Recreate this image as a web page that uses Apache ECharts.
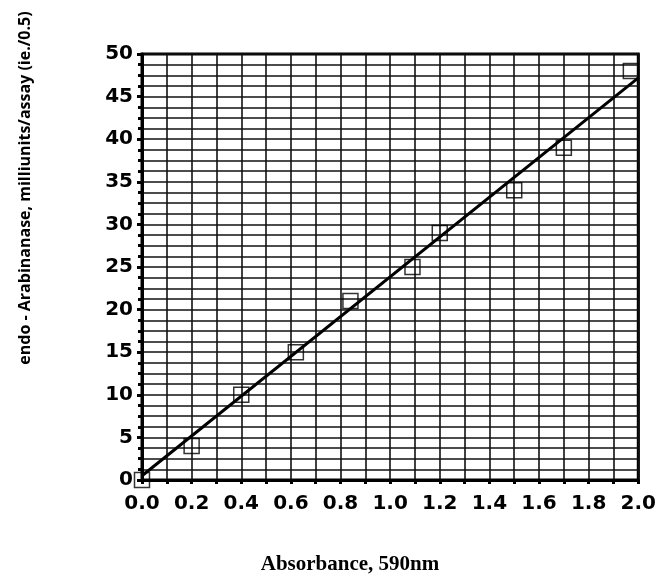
<!DOCTYPE html>
<html>
<head>
<meta charset="utf-8">
<script src="https://cdn.jsdelivr.net/npm/echarts@6/dist/echarts.min.js"></script>
<style>
  html, body { margin: 0; padding: 0; background: #fff; }
  #chart { width: 659px; height: 588px; }
</style>
</head>
<body>
<div id="chart"></div>
<script>
// absorbance readings and matching activity
const absorbance = [0.0, 0.2, 0.4, 0.62, 0.84, 1.09, 1.2, 1.5, 1.7, 1.97];
const activity = [0, 4, 10, 15, 21, 25, 29, 34, 39, 48];
// end points of the drawn standard-curve line
const fitX = [0.0, 2.0];
const fitY = [0.5, 47.2];

const chart = echarts.init(document.getElementById('chart'));

const tickFont = {
  fontFamily: 'DejaVu Sans',
  fontWeight: 'bold',
  fontSize: 20,
  color: '#000'
};

const option = {
  backgroundColor: '#fff',
  animation: false,
  grid: {
    left: 142,
    right: 18,
    top: 54,
    bottom: 108,
    show: true,
    borderColor: '#000',
    borderWidth: 3
  },
  xAxis: {
    type: 'value',
    min: 0,
    max: 2,
    interval: 0.2,
    axisLine: { lineStyle: { color: '#000', width: 3 } },
    axisTick: { show: true, length: 4, lineStyle: { color: '#000', width: 3 } },
    minorTick: { show: true, splitNumber: 2, length: 4, lineStyle: { color: '#000', width: 3 } },
    splitLine: { show: true, lineStyle: { color: '#111', width: 1.6 } },
    minorSplitLine: { show: true, lineStyle: { color: '#111', width: 1.6 } },
    axisLabel: Object.assign({ margin: 14, formatter: v => v.toFixed(1) }, tickFont)
  },
  yAxis: {
    type: 'value',
    min: 0,
    max: 50,
    interval: 5,
    axisLine: { show: true, lineStyle: { color: '#000', width: 3 } },
    axisTick: { show: true, length: 5, lineStyle: { color: '#000', width: 3 } },
    minorTick: { show: true, splitNumber: 4, length: 4, lineStyle: { color: '#000', width: 3 } },
    splitLine: { show: true, lineStyle: { color: '#111', width: 1.6 } },
    minorSplitLine: { show: true, lineStyle: { color: '#111', width: 1.6 } },
    axisLabel: Object.assign({ margin: 9 }, tickFont)
  },
  graphic: [
    {
      type: 'text',
      x: 25,
      y: 188,
      rotation: Math.PI / 2,
      style: {
        text: 'endo - Arabinanase, milliunits/assay (ie./0.5)',
        font: 'bold 16px "Open Sans"',
        fill: '#000',
        align: 'center',
        verticalAlign: 'middle'
      }
    },
    {
      type: 'text',
      x: 350,
      y: 565,
      style: {
        text: 'Absorbance, 590nm',
        font: 'bold 21px "Liberation Serif"',
        fill: '#000',
        align: 'center',
        verticalAlign: 'middle'
      }
    }
  ],
  series: [
    {
      type: 'scatter',
      clip: false,
      symbol: 'rect',
      symbolSize: 15,
      itemStyle: { color: 'rgba(255,255,255,0)', borderColor: '#000', borderWidth: 1.5 },
      data: absorbance.map((x, i) => [x, activity[i]]),
      z: 3
    },
    {
      type: 'line',
      showSymbol: false,
      symbol: 'none',
      lineStyle: { color: '#000', width: 3 },
      data: fitX.map((x, i) => [x, fitY[i]]),
      z: 4
    }
  ]
};

chart.setOption(option);
</script>
</body>
</html>
